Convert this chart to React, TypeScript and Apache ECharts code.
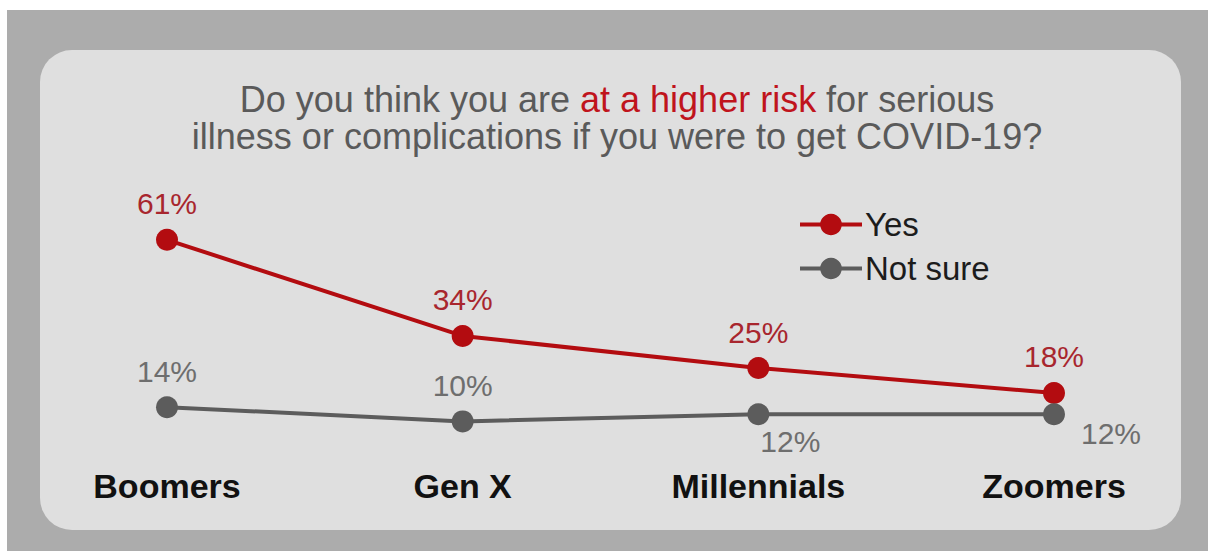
import React, { useEffect, useRef } from "react";
import * as echarts from "echarts";

const categories = ["Boomers", "Gen X", "Millennials", "Zoomers"];
const yesValues = [61, 34, 25, 18];
const notSureValues = [14, 10, 12, 12];
const seriesNames = ["Yes", "Not sure"];

const RED = "#b30c10";
const RED_LABEL = "#a8262e";
const GRAY = "#5c5c5c";
const GRAY_LABEL = "#6e6e6e";
const FONT = "Liberation Sans, Arial, sans-serif";

export default function App() {
  const ref = useRef<HTMLDivElement>(null);
  useEffect(() => {
    document.body.style.margin = "0";
    const chart = echarts.init(ref.current!, undefined, { renderer: "svg" });
    const notSureLabelPos: any[] = [
      { position: "top", distance: 10 },
      { position: "top", distance: 10 },
      { position: "bottom", offset: [32, 0], distance: 1 },
      { position: "right", offset: [6, 19], distance: 10 },
    ];
    chart.setOption({
      animation: false,
      backgroundColor: "#ffffff",
      graphic: [
        { type: "rect", shape: { x: 7, y: 10, width: 1201, height: 541 }, style: { fill: "#acacac" }, z: -10, silent: true },
        { type: "rect", shape: { x: 40, y: 50, width: 1141, height: 480, r: 32 }, style: { fill: "#dfdfdf" }, z: -9, silent: true },
      ],
      title: {
        text: "Do you think you are {r|at a higher risk} for serious\nillness or complications if you were to get COVID-19?",
        left: 612,
        top: 76,
        textAlign: "center",
        textStyle: {
          fontFamily: FONT,
          fontSize: 36,
          fontWeight: "normal",
          color: "#5a5a5a",
          lineHeight: 37,
          rich: {
            r: { color: "#c0141c", fontFamily: FONT, fontSize: 36, lineHeight: 37 },
          },
        },
      },
      legend: {
        orient: "vertical",
        left: 798,
        top: 208,
        padding: 0,
        itemWidth: 62,
        itemHeight: 27,
        itemGap: 11,
        data: seriesNames,
        lineStyle: { width: 4 },
        textStyle: { fontFamily: FONT, fontSize: 33, color: "#1c1c1c", lineHeight: 30, padding: [0, 0, 0, -2] },
      },
      grid: { left: 167, right: 154, top: 101, bottom: 94 },
      xAxis: {
        type: "category",
        data: categories,
        boundaryGap: false,
        axisLine: { show: false },
        axisTick: { show: false },
        splitLine: { show: false },
        axisLabel: {
          margin: 12,
          fontFamily: FONT,
          fontSize: 34,
          fontWeight: "bold",
          color: "#111111",
        },
      },
      yAxis: { type: "value", min: 0, max: 100, show: false },
      series: [
        {
          name: seriesNames[0],
          type: "line",
          data: yesValues,
          symbol: "circle",
          symbolSize: 22,
          lineStyle: { color: RED, width: 4 },
          itemStyle: { color: RED },
          label: {
            show: true,
            position: "top",
            distance: 10,
            formatter: "{c}%",
            fontFamily: FONT,
            fontSize: 30,
            color: RED_LABEL,
          },
        },
        {
          name: seriesNames[1],
          type: "line",
          data: notSureValues.map((v, i) => ({ value: v, label: notSureLabelPos[i] })),
          symbol: "circle",
          symbolSize: 22,
          lineStyle: { color: GRAY, width: 4 },
          itemStyle: { color: GRAY },
          label: {
            show: true,
            formatter: "{c}%",
            fontFamily: FONT,
            fontSize: 30,
            color: GRAY_LABEL,
          },
        },
      ],
    });
    return () => chart.dispose();
  }, []);
  return <div ref={ref} style={{ width: 1208, height: 551, position: "absolute", left: 0, top: 0 }} />;
}
